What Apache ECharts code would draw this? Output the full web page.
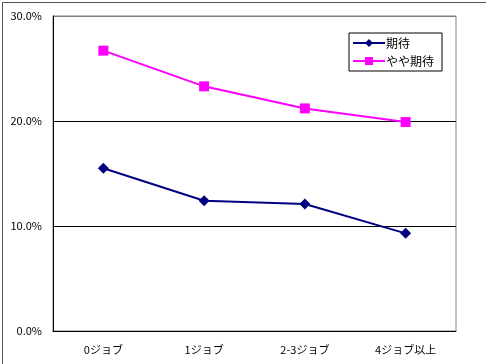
<!DOCTYPE html>
<html><head><meta charset="utf-8">
<script src="https://cdn.jsdelivr.net/npm/echarts@6/dist/echarts.min.js"></script>
<style>html,body{margin:0;padding:0;background:#fff}#c{width:486px;height:364px}</style>
</head><body><div id="c"></div>
<script>
const categories = ['0ジョブ', '1ジョブ', '2-3ジョブ', '4ジョブ以上'];
const seriesNames = ['期待', 'やや期待'];
const kitai = [15.5, 12.4, 12.1, 9.3];
const yayaKitai = [26.7, 23.3, 21.2, 19.9];
const yTicks = [0, 10, 20, 30];

const font = '"Noto Sans CJK JP", sans-serif';
const chart = echarts.init(document.getElementById('c'), null, {renderer: 'canvas'});
chart.setOption({
  animation: false,
  backgroundColor: '#fff',
  textStyle: {fontFamily: font, color: '#000'},
  graphic: [{
    type: 'rect', left: 0, top: 0, z: 100, silent: true,
    shape: {x: 0.5, y: 0.5, width: 485, height: 363},
    style: {fill: null, stroke: '#555', lineWidth: 1}
  }],
  grid: {left: 53, right: 30, top: 16, bottom: 33, show: true, borderColor: '#808080', borderWidth: 1, backgroundColor: '#fff'},
  legend: {
    left: 349, top: 33, orient: 'vertical', width: 86,
    padding: [4, 8, 4, 3], itemGap: 6, itemWidth: 32, itemHeight: 10,
    borderColor: '#000', borderWidth: 1, backgroundColor: '#fff',
    textStyle: {fontFamily: font, fontSize: 12, color: '#000', padding: [0, 0, 0, -4]},
    data: seriesNames
  },
  xAxis: {
    type: 'category', data: categories, boundaryGap: true,
    axisLine: {lineStyle: {color: '#000', width: 1}},
    axisTick: {inside: true, length: 4, lineStyle: {color: '#000'}},
    axisLabel: {fontFamily: font, fontSize: 11, color: '#000', margin: 13}
  },
  yAxis: {
    type: 'value', min: yTicks[0], max: yTicks[yTicks.length - 1], interval: 10,
    axisLine: {show: true, lineStyle: {color: '#000', width: 1}},
    axisTick: {show: false},
    splitLine: {show: true, lineStyle: {color: ['#000', '#000', '#000', '#808080'], width: 1}},
    axisLabel: {fontFamily: font, fontSize: 11, color: '#000', margin: 11, formatter: v => v.toFixed(1) + '%'}
  },
  series: [
    {name: seriesNames[0], type: 'line', data: kitai, symbol: 'diamond', symbolSize: 11,
     lineStyle: {color: '#000080', width: 2}, itemStyle: {color: '#000080'}},
    {name: seriesNames[1], type: 'line', data: yayaKitai, symbol: 'rect', symbolSize: 10,
     lineStyle: {color: '#FF00FF', width: 2}, itemStyle: {color: '#FF00FF'}}
  ]
});
</script></body></html>
